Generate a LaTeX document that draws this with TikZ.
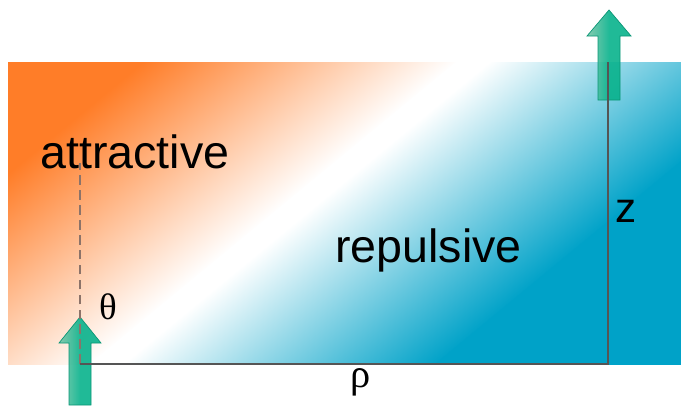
\documentclass[tikz,border=0pt]{standalone}
\usepackage{fontspec}
\setmainfont{Liberation Sans}
\newfontfamily\grkfont{Liberation Serif}
\definecolor{orng}{RGB}{255,125,40}
\definecolor{blu}{RGB}{0,162,200}
\definecolor{spingreen}{RGB}{8,178,140}
\definecolor{spinlight}{RGB}{120,198,168}
\definecolor{spinedge}{RGB}{10,150,118}
\definecolor{linegray}{RGB}{85,85,85}
\definecolor{dashgray}{RGB}{140,115,105}
\begin{document}
\begin{tikzpicture}[
    spin/.style={left color=spinlight,right color=spingreen,middle color=spingreen,
        fill opacity=.9,draw=spinedge,line width=.4pt},
    axisline/.style={linegray,line width=.85pt},
    bigword/.style={font=\fontsize{26.5}{31}\selectfont,inner sep=0pt,anchor=base west}]
    \useasboundingbox (0,0) rectangle (13.62,8.1);
    % background: orange -> white -> blue, along the diagonal
    \begin{scope}
        \clip (0.16,0.82) rectangle (13.62,6.86);
        \begin{scope}[transform canvas={shift={(5.8,3.84)},rotate=-50.5}]
            \fill[orng] (-12,-12) rectangle (-4.18,12);
            \shade[left color=orng,right color=white] (-4.2,-12) rectangle (-0.2,12);
            \fill[white] (-0.22,-12) rectangle (0.22,12);
            \shade[left color=white,right color=blu] (0.2,-12) rectangle (4.2,12);
            \fill[blu] (4.18,-12) rectangle (12,12);
        \end{scope}
    \end{scope}
    % the two spins
    \shade[spin] (1.38,0) -- (1.38,1.24) -- (1.18,1.24) -- (1.6,1.76)
        -- (2.02,1.24) -- (1.82,1.24) -- (1.82,0) -- cycle;
    \shade[spin] (11.96,6.1) -- (11.96,7.38) -- (11.74,7.38) -- (12.18,7.9)
        -- (12.62,7.38) -- (12.4,7.38) -- (12.4,6.1) -- cycle;
    \coordinate (o) at (1.6,0.82);
    \coordinate (c) at (12.16,0.82);
    \coordinate (t) at (12.16,6.86);
    \coordinate (d) at (1.6,4.84);
    \draw[dashgray,line width=.7pt,dash pattern=on 5.5pt off 3pt] (o) -- (d);
    \draw[axisline] (o) -- (c) -- (t);
    \node[bigword] (attr) at (0.8,4.74) {attractive};
    \node[bigword] (rep) at (6.7,2.86) {repulsive};
    \node[font=\fontsize{24}{28}\selectfont,inner sep=0pt,anchor=base west] (zlab) at (12.3,3.66) {z};
    \node[font=\grkfont\fontsize{21}{25}\selectfont,inner sep=0pt] (theta) at (2.16,1.96) {θ};
    \node[font=\grkfont\fontsize{23}{27}\selectfont,inner sep=0pt,anchor=base] (rho) at (7.22,0.36) {ρ};
\end{tikzpicture}
\end{document}
